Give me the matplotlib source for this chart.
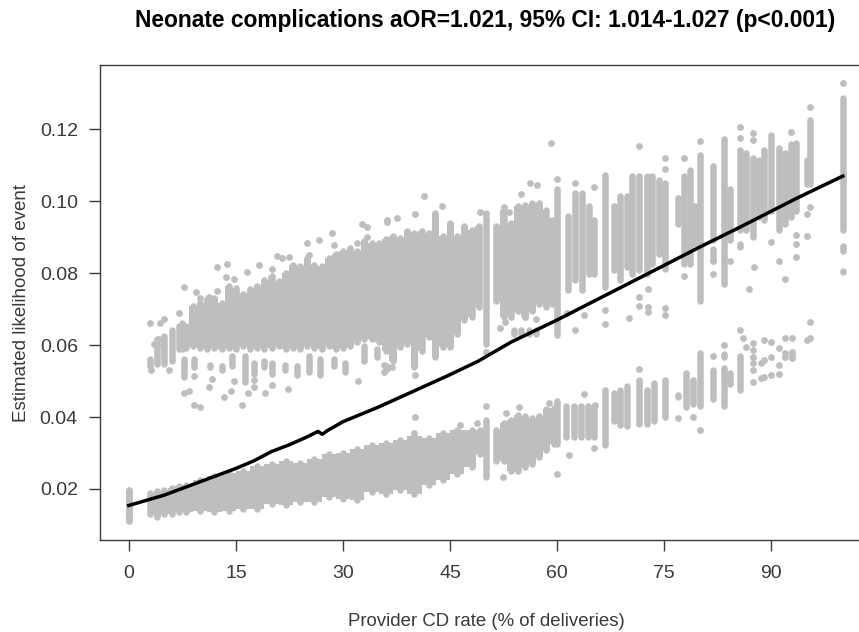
import numpy as np
from matplotlib import pyplot as plt

# cloud outlines: x (% CD), lowest and highest y
UPPER_X = [7, 7.5, 8, 9, 10, 11, 12, 13, 14, 15, 16, 17, 18, 19, 20, 21, 22, 23, 24, 25,
           26, 27, 28, 29, 30, 31, 32, 33, 34, 35, 36, 37, 38, 39, 40, 41, 42, 42.9, 44, 45,
           46, 47, 48, 49, 51.5, 52.5, 53.5, 54.5, 55.5, 56.5, 57.5, 58.5, 59.3]
UPPER_LO = [.0580, .0580, .0585, .0590, .0585, .0580, .0585, .0580, .0585, .0580,
            .0590, .0580, .0585, .0580, .0585, .0590, .0580, .0585, .0580, .0590,
            .0585, .0580, .0590, .0580, .0585, .0590, .0600, .0610, .0610, .0600,
            .0577, .0549, .0586, .0596, .0531, .0577, .0614, .0559, .0586, .0586,
            .0623, .0661, .0670, .0698, .0716, .0670, .0670, .0688, .0670, .0688,
            .0707, .0698, .0707]
UPPER_HI = [.0661, .0670, .0661, .0716, .0726, .0735, .0739, .0726, .0772, .0767,
            .0749, .0763, .0772, .0790, .0800, .0786, .0809, .0832, .0827, .0851,
            .0832, .0827, .0851, .0860, .0869, .0878, .0869, .0897, .0892, .0892,
            .0902, .0911, .0906, .0925, .0920, .0925, .0920, .0976, .0911, .0948,
            .0911, .0939, .0929, .0939, .0939, .0985, .0948, .0994, .0999, .1004,
            .1004, .0985, .0957]

LOWER_X = [3, 4, 5, 6, 7, 8, 10, 12, 14, 16, 18, 20, 22, 24, 26, 28, 30, 32, 34, 36,
           38, 40, 42, 44, 46, 48, 49.2, 51.5, 52.5, 53.5, 54.5, 55.5, 56.5, 57.5, 58.5, 59.5]
LOWER_LO = [.0123, .0113, .0123, .0123, .0128, .0128, .0132, .0128, .0132, .0137,
            .0137, .0151, .0146, .0155, .0155, .0169, .0165, .0160, .0183, .0178,
            .0188, .0178, .0202, .0216, .0234, .0253, .0290, .0271, .0271, .0243,
            .0243, .0253, .0262, .0280, .0299, .0318]
LOWER_HI = [.0197, .0202, .0206, .0211, .0216, .0220, .0234, .0243, .0253, .0257,
            .0271, .0276, .0285, .0281, .0290, .0304, .0308, .0318, .0331, .0336,
            .0345, .0355, .0350, .0364, .0373, .0373, .0373, .0373, .0392, .0401,
            .0415, .0410, .0406, .0410, .0429, .0433]

# single provider-rate columns: x, lowest y, highest y
STRIP_X = [0, 3.0, 4, 5, 6, 50, 54, 55, 56, 57, 60, 61.5, 62.5, 63.5, 64.5, 65.2, 66.7,
           68.0, 68.8, 69.8, 70.5, 71.4, 72.6, 73.3, 74.2, 75.1, 76.9, 77.8, 78.6, 79.3,
           80, 81.8, 81.8, 83.4, 84.2, 85.6, 85.6, 86.5, 87.4, 88.3, 89, 90, 91, 91.9,
           92.8, 93.5, 95, 95.4, 100, 100, 100,
           0, 50, 60, 61.3, 62.3, 63.3, 64.3, 65.2, 66.7, 68.0, 68.8, 69.8, 71.4, 72.6, 73.5,
           75.1, 76.9, 78, 79, 80, 81.8, 83.4, 83.4, 84.2, 85.6,
           7.7, 9.1, 11.4, 13, 14.4, 16.3, 17.5, 18.9, 20, 21.9, 23.5, 25.2, 26.8, 28.7, 30.3,
           32.9, 34.7, 36.1]
STRIP_LO = [.0104, .0535, .0540, .0540, .0549, .0596, .0623, .0623, .0623, .0623, .0619,
            .0744, .0772, .0744, .0790, .0790, .0753,
            .0800, .0772, .0809, .0790, .0800, .0790, .0818, .0846, .0804, .0929, .0818, .0818,
            .0874, .0716, .0883, .0827, .0762, .0883, .0911, .0864, .0911, .0892, .0948, .0939,
            .0966, .0911, .0930, .0948, .0966, .1041, .1041, .0911, .0855, .0795,
            .0104, .0225, .0318, .0336, .0336, .0336, .0336, .0336, .0313, .0382, .0370, .0368,
            .0373, .0373, .0382, .0392, .0447, .0419, .0429, .0424, .0443, .0424, .0559, .0484,
            .0466,
            .0503, .0531, .0531, .0522, .0535, .0489, .0512, .0531, .0512, .0522, .0508, .0517,
            .0508, .0535, .0517, .0549, .0559, .0526]
STRIP_HI = [.0206, .0568, .0624, .0633, .0651, .0976, .0651, .0651, .0651, .0651, .1041,
            .0966, .1031, .1031, .0994, .0957, .1082,
            .0994, .1022, .1022, .1078, .1078, .1078, .1078, .1068, .1059, .1017, .1078, .1096,
            .0994, .1138, .1105, .0874, .1180, .1041, .1152, .0888, .1142, .1129, .1124, .1152,
            .1193, .1156, .1142, .1166, .1170, .1124, .1235, .1295, .0883, .0813,
            .0206, .0401, .0452, .0438, .0438, .0438, .0438, .0438, .0484, .0475, .0484, .0494,
            .0512, .0484, .0503, .0512, .0470, .0531, .0512, .0586, .0540, .0545, .0582, .0531,
            .0577,
            .0568, .0568, .0554, .0549, .0577, .0577, .0559, .0563, .0559, .0554, .0549, .0577,
            .0568, .0568, .0559, .0605, .0596, .0549]

# stray points
DOT_X = [3.0, 4.4, 4.9, 3.5, 4.3, 4.8, 7.1, 7.7, 9.4, 10.0, 11.2, 12.4, 13.7, 12.4, 13.6, 14.7,
         16.6, 18.3, 20.0, 20.7, 21.4, 22.5, 24.9, 25.2, 26.6, 28.4, 32.6, 33.3, 36.1, 28.7,
         32.0, 33.3, 7.7, 8.4, 9.2, 10.0, 11.2, 11.6, 13.4, 14.3, 14.8, 15.8, 16.7, 17.6, 17.6,
         19.1, 20.0, 22.3, 32.1, 9.2, 3.1, 5.6, 36.1, 37.5, 40.1, 41.3, 43.8, 49.2, 35.8, 36.8,
         35.8, 40.1, 59.2, 56.2, 57.2, 55.0, 62.5, 65.1, 62.5, 61.4, 63.7, 52.0, 52.7, 55.5, 57.1,
         52.5, 53.2, 50.0, 60.0, 66.7, 66.7, 71.4, 71.4, 71.4, 72.7, 72.7, 72.7, 70.0, 75.1, 75.1,
         75.1, 75.1, 77.8, 77.8, 80, 81.8, 81.8, 84.2, 85.6, 85.6, 86.8, 87.4, 87.4, 87.5, 90, 91,
         91.9, 92.8, 93.5, 93.5, 93.5, 95.4, 95.4, 95, 95, 100,
         40.1, 39.9, 50.05, 46.4, 48.7, 54.6, 52.9, 58.8, 60, 52.4, 61.6, 63.7, 65.3, 65.2,
         71.4, 76.9, 79, 80, 81.8, 83.4, 85.6, 86, 86.5, 87.4, 87.4, 87.4, 87.4, 87.4, 87.4,
         88.5, 88.5, 89, 89, 89, 90, 90, 90, 91, 91, 91, 91.9, 91.9, 91.9, 92.9, 92.9, 92.9, 92.9,
         95, 95.4, 95.4]
DOT_Y = [.0662, .0661, .0672, .0602, .0616, .0598, .0688, .0761, .0749, .0730, .0735, .0818,
         .0825, .0751, .0790, .0783, .0804, .0824, .0811, .0848, .0841, .0844, .0883, .0851,
         .0891, .0911, .0937, .0929, .0943, .0878, .0883, .0902, .0466, .0473, .0434, .0427,
         .0483, .0505, .0457, .0473, .0499, .0434, .0468, .0503, .0483, .0466, .0490, .0477,
         .0499, .0514, .0531, .0531, .0948, .0953, .0966, .1015, .0988, .0971, .0545, .0538,
         .0526, .0517, .1161, .1052, .1045, .1020, .1052, .1039, .0642, .0688, .0684, .0647,
         .0665, .0679, .0674, .0985, .0971, .0582, .1061, .0698, .0659, .1154, .0735, .0709,
         .0707, .0693, .0755, .0676, .1119, .1089, .0702, .0684, .1119, .0792, .1168, .0798,
         .0835, .0835, .1206, .1175, .0755, .1189, .1170, .0818, .0888, .0834, .0784, .1193,
         .0906, .0881, .0844, .1263, .0983, .0966, .0904, .1328,
         .0401, .0355, .0431, .0378, .0382, .0429, .0412, .0438, .0241, .0232, .0294, .0464,
         .0433, .0313, .0533, .0396, .0401, .0364, .0571, .0601, .0642, .0619, .0596, .0605,
         .0586, .0568, .0549, .0531, .0498, .0549, .0508, .0614, .0559, .0512, .0609, .0568,
         .0517, .0591, .0545, .0521, .0619, .0577, .0568, .0619, .0582, .0572, .0563, .0614,
         .0665, .0619]

# predicted likelihood line
LINE_X = [0, 5, 10, 15, 17.5, 20, 22.5, 25, 26.5, 27.1, 27.8, 30, 35, 39.9, 44.9, 48.9, 53.6,
          60, 67.4, 75.1, 80, 85.6, 93.6, 100]
LINE_Y = [.0154, .0183, .0220, .0257, .0278, .0304, .0323, .0345, .0360, .0352, .0362, .0387,
          .0428, .0472, .0517, .0555, .0609, .0670, .0745, .0823, .0873, .0928, .1009, .1070]

X_TICKS = [0, 15, 30, 45, 60, 75, 90]
Y_TICKS = [0.02, 0.04, 0.06, 0.08, 0.10, 0.12]
Y_LABELS = ['0.02', '0.04', '0.06', '0.08', '0.10', '0.12']

GREY = '#bebebe'
DARK = '#3a3a3a'
W, H = 859, 632
CAP = .0008  # dot radius in y units

plt.rcParams['font.family'] = ['Liberation Sans', 'DejaVu Sans']

fig = plt.figure(figsize=(W/100., H/100.), dpi=100)
# the frame runs past the right edge of the image, as in the source
ax = fig.add_axes([100./W, (H - 540.)/H, 771./W, 475./H])
ax.set_xlim(-4.03, 103.95)
ax.set_ylim(0.0058, 0.1379)


# solid parts of the clouds, split wherever there is a gap in x
def fill_runs(xs, los, his):
    xs, los, his = np.asarray(xs), np.asarray(los) + CAP, np.asarray(his) - CAP
    for run in np.split(np.arange(len(xs)), np.where(np.diff(xs) > 2.1)[0] + 1):
        ax.fill_between(xs[run], los[run], his[run], step='mid', color=GREY, linewidth=0, zorder=1)
    ax.vlines(xs, los, his, color=GREY, linewidth=4.7, capstyle='round', zorder=1)


fill_runs(UPPER_X, UPPER_LO, UPPER_HI)
fill_runs(LOWER_X, LOWER_LO, LOWER_HI)

# outlines are outer edges of the dots, so pull the round caps back by a radius
ax.vlines(STRIP_X, np.asarray(STRIP_LO) + CAP, np.asarray(STRIP_HI) - CAP,
          color=GREY, linewidth=4.7, capstyle='round', zorder=2)
ax.scatter(DOT_X, DOT_Y, s=24, color=GREY, linewidths=0, zorder=2)
ax.plot(LINE_X, LINE_Y, color='black', linewidth=2.5, zorder=3)

ax.set_xticks(X_TICKS)
ax.set_yticks(Y_TICKS)
ax.set_yticklabels(Y_LABELS)
ax.tick_params(axis='x', length=8, width=1, color=DARK, labelcolor=DARK, labelsize=14, pad=10)
ax.tick_params(axis='y', length=8, width=1, color=DARK, labelcolor=DARK, labelsize=14, pad=8)
for spine in ax.spines.values():
    spine.set_color(DARK)
    spine.set_linewidth(1)

fig.text(486./W, 1 - 621./H, 'Provider CD rate (% of deliveries)', fontsize=13.4, color=DARK,
         ha='center', va='center')
fig.text(22./W, 1 - 303./H, 'Estimated likelihood of event', fontsize=13.5, color=DARK,
         rotation=90, ha='center', va='center')
fig.text(485.5/W, 1 - 21./H, 'Neonate complications aOR=1.021, 95% CI: 1.014-1.027 (p<0.001)',
         fontsize=16.4, fontweight='bold', color='black', ha='center', va='center')

fig.savefig('out.png', dpi=100)
